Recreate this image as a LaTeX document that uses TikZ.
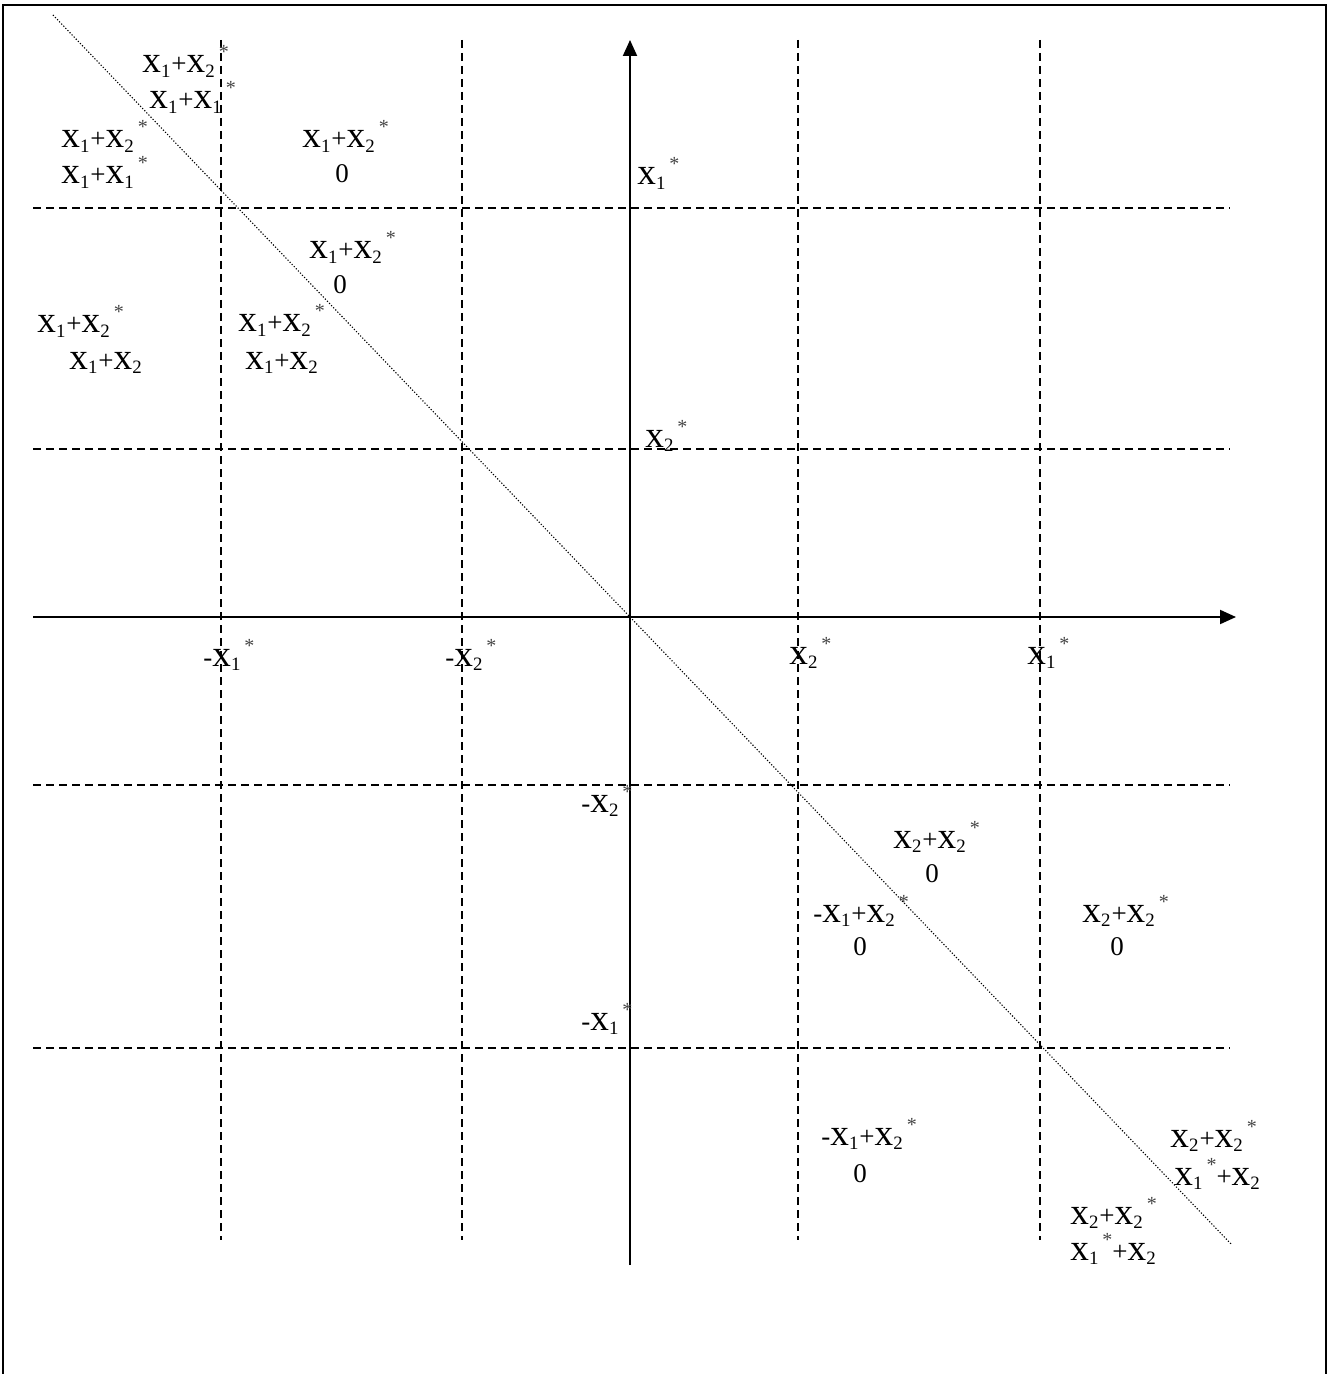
\documentclass[tikz,border=0pt]{standalone}
\usepackage{fontspec}
\setmainfont{Liberation Serif}
\usepackage{graphicx}
\usepackage{xcolor}
\usetikzlibrary{arrows.meta}
\definecolor{starc}{HTML}{444444}
\newcommand{\xs}[1]{\scalebox{1.38}{x}\textsubscript{#1}}
\newcommand{\st}{\hspace{1.5pt}\raisebox{7pt}[0pt][0pt]{\fontsize{10}{10}\selectfont\color{starc}*}}
\tikzset{
  ax/.style={-{Triangle[length=8pt,width=7pt]},line width=1pt},
  gl/.style={dash pattern=on 4pt off 2.5pt,line width=0.6pt},
  dg/.style={dash pattern=on 0.6pt off 0.9pt,line width=0.55pt},
  lb/.style={anchor=base west,inner sep=0pt,font=\fontsize{13.5}{16}\selectfont},
  zr/.style={anchor=base,inner sep=0pt,font=\fontsize{13.5}{16}\selectfont}
}

\begin{document}
\begin{tikzpicture}[x=0.5pt,y=-0.5pt]
\useasboundingbox (0,0) rectangle (1328,1374);
% frame, open at the bottom
\draw[line width=1pt] (3,1374) -- (3,5) -- (1326,5) -- (1326,1374);
% grid
\foreach \gx in {221,462,798,1040} \draw[gl] (\gx,40) -- (\gx,1240);
\foreach \gy in {208,449,785,1048} \draw[gl] (33,\gy) -- (1230,\gy);
% axes and diagonal
\coordinate (xl) at (33,617);
\coordinate (xr) at (1236,617);
\coordinate (yb) at (630,1265);
\coordinate (yt) at (630,40);
\draw[ax] (xl) -- (xr);
\draw[ax] (yb) -- (yt);
\coordinate (dl) at (53,15);
\coordinate (dr) at (1232,1245);
\draw[dg] (dl) -- (dr);
% upper left regions
\node[lb] (ulA1) at (142,73) {\xs1+\xs2\st};
\node[lb] (ulA2) at (149,109) {\xs1+\xs1\st};
\node[lb] (ulB1) at (61,148) {\xs1+\xs2\st};
\node[lb] (ulB2) at (61,184) {\xs1+\xs1\st};
\node[lb] (ucA1) at (302,148) {\xs1+\xs2\st};
\node[zr] (ucA2) at (342,183) {0};
\node[lb] (ucB1) at (309,259) {\xs1+\xs2\st};
\node[zr] (ucB2) at (340,293) {0};
\node[lb] (mlA1) at (37,333) {\xs1+\xs2\st};
\node[lb] (mlA2) at (69,369) {\xs1+\xs2};
\node[lb] (mcA1) at (238,332) {\xs1+\xs2\st};
\node[lb] (mcA2) at (245,369) {\xs1+\xs2};
% marks on the axes
\node[lb] (ty1) at (637,185) {\xs1\st};
\node[lb] (ty2) at (645,447) {\xs2\st};
\node[lb] (tx1m) at (203,666) {-\xs1\st};
\node[lb] (tx2m) at (445,666) {-\xs2\st};
\node[lb] (tx2) at (789,664) {\xs2\st};
\node[lb] (tx1) at (1027,664) {\xs1\st};
\node[lb] (ty2m) at (581,812) {-\xs2\st};
\node[lb] (ty1m) at (581,1030) {-\xs1\st};
% lower right regions
\node[lb] (lrA1) at (893,848) {\xs2+\xs2\st};
\node[zr] (lrA2) at (932,882) {0};
\node[lb] (lrB1) at (813,922) {-\xs1+\xs2\st};
\node[zr] (lrB2) at (860,955) {0};
\node[lb] (lrC1) at (1082,922) {\xs2+\xs2\st};
\node[zr] (lrC2) at (1117,955) {0};
\node[lb] (lrD1) at (821,1145) {-\xs1+\xs2\st};
\node[zr] (lrD2) at (860,1182) {0};
\node[lb] (lrE1) at (1170,1147) {\xs2+\xs2\st};
\node[lb] (lrE2) at (1174,1185) {\xs1\st+\xs2};
\node[lb] (lrF1) at (1070,1224) {\xs2+\xs2\st};
\node[lb] (lrF2) at (1070,1260) {\xs1\st+\xs2};
\end{tikzpicture}
\end{document}
